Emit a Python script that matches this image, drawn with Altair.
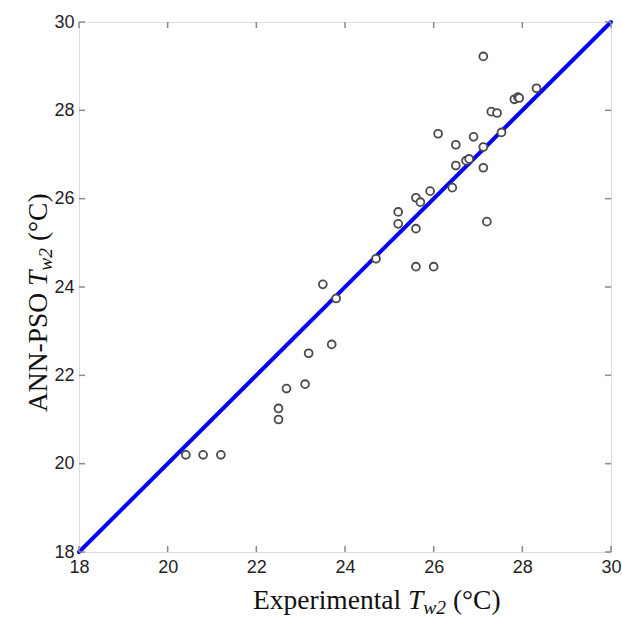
import altair as alt
import pandas as pd

# ---- data ----
exp_x = [20.41, 20.80, 21.20, 22.50, 22.50, 22.68, 23.10, 23.18, 23.70, 23.50,
         23.80, 24.70, 25.20, 25.20, 25.60, 26.00, 25.60, 25.60, 25.70, 25.92,
         26.42, 27.20, 27.12, 28.32, 27.82, 27.90, 27.93, 27.30, 27.43, 27.53,
         26.10, 26.50, 26.90, 27.12, 26.50, 26.73, 26.80, 27.12]
pred_y = [20.20, 20.20, 20.20, 21.25, 21.00, 21.70, 21.80, 22.50, 22.70, 24.06,
          23.74, 24.64, 25.70, 25.43, 24.46, 24.46, 25.32, 26.02, 25.92, 26.17,
          26.25, 25.48, 29.22, 28.50, 28.25, 28.30, 28.28, 27.97, 27.94, 27.50,
          27.47, 27.22, 27.40, 27.17, 26.75, 26.86, 26.90, 26.70]
diag = [18, 30]
ticks = [18, 20, 22, 24, 26, 28, 30]
x_title_parts = ["Experimental", "T", "w2", "(°C)"]
y_title_parts = ["ANN-PSO", "T", "w2", "(°C)"]

W, H = 532, 530
PL, PT = 79, 22

xs = alt.Scale(domain=[18, 30], nice=False, zero=False)
ys = alt.Scale(domain=[18, 30], nice=False, zero=False)

lab = dict(values=ticks, title=None, domain=False, ticks=False, grid=False,
           labelFont="Liberation Sans", labelFontSize=18, labelColor="#1f1f1f",
           labelOverlap=False, labelFlush=False)
xaxis = alt.Axis(labelPadding=6, **lab)
yaxis = alt.Axis(labelPadding=5, **lab)

pts = pd.DataFrame({"x": exp_x, "y": pred_y})
line_df = pd.DataFrame({"x": diag, "y": diag})
tick_df = pd.DataFrame({"x": ticks, "y": ticks})

X = alt.X("x:Q", scale=xs, axis=xaxis)
Y = alt.Y("y:Q", scale=ys, axis=yaxis)

line = alt.Chart(line_df).mark_line(color="#0000ff", strokeWidth=4, strokeCap="round").encode(x=X, y=Y)

points = alt.Chart(pts).mark_point(shape="circle", filled=False, fill="white", fillOpacity=1,
                                   stroke="#4a4a4a", strokeWidth=1.8, size=62, opacity=1).encode(x=X, y=Y)

tk = dict(color="#8a8a8a", strokeWidth=1.5)
t_bottom = alt.Chart(tick_df).mark_rule(**tk).encode(x=X, y=alt.value(H), y2=alt.value(H - 6))
t_top = alt.Chart(tick_df).mark_rule(**tk).encode(x=X, y=alt.value(0), y2=alt.value(6))
t_left = alt.Chart(tick_df).mark_rule(**tk).encode(y=Y, x=alt.value(0), x2=alt.value(6))
t_right = alt.Chart(tick_df).mark_rule(**tk).encode(y=Y, x=alt.value(W), x2=alt.value(W - 6))

FS, SS = 27.5, 19.5
SERIF = "Liberation Serif"


def txt(s, x, y, italic=False, size=FS, angle=0):
    return alt.Chart(pd.DataFrame({"t": [s]})).mark_text(
        font=SERIF, fontSize=size, fontStyle="italic" if italic else "normal",
        align="left", baseline="alphabetic", color="#111111", angle=angle
    ).encode(text="t:N", x=alt.value(x), y=alt.value(y))


# x title pieces
bx, by = 253 - PL, 609 - PT
w_main = 5388 * FS / 1000
w_sp = 250 * FS / 1000
w_T = 556 * FS / 1000
w_sub = 1167 * SS / 1000
x1 = bx + w_main + w_sp
x2 = x1 + w_T
x3 = x2 + w_sub + w_sp
xt = [txt(x_title_parts[0], bx, by),
      txt(x_title_parts[1], x1, by, italic=True),
      txt(x_title_parts[2], x2, by + 5, italic=True, size=SS),
      txt(x_title_parts[3], x3, by)]

# y title pieces (rotated, reading upwards)
ax_, ay_ = 47 - PL, 412 - PT
w_main_y = 4333 * FS / 1000
y1 = ay_ - (w_main_y + w_sp)
y2 = y1 - w_T
y3 = y2 - w_sub - w_sp
yt = [txt(y_title_parts[0], ax_, ay_, angle=270),
      txt(y_title_parts[1], ax_, y1, italic=True, angle=270),
      txt(y_title_parts[2], ax_ + 5, y2, italic=True, size=SS, angle=270),
      txt(y_title_parts[3], ax_, y3, angle=270)]

chart = alt.layer(line, points, t_bottom, t_top, t_left, t_right, *xt, *yt).properties(
    width=W, height=H,
    padding={"left": PL, "top": PT, "right": 622 - PL - W, "bottom": 617 - PT - H},
    autosize="none",
).configure_view(stroke="#8a8a8a", strokeWidth=2).configure(background="white")

chart.save("out.html", embed_options={"renderer": "svg", "actions": False})
